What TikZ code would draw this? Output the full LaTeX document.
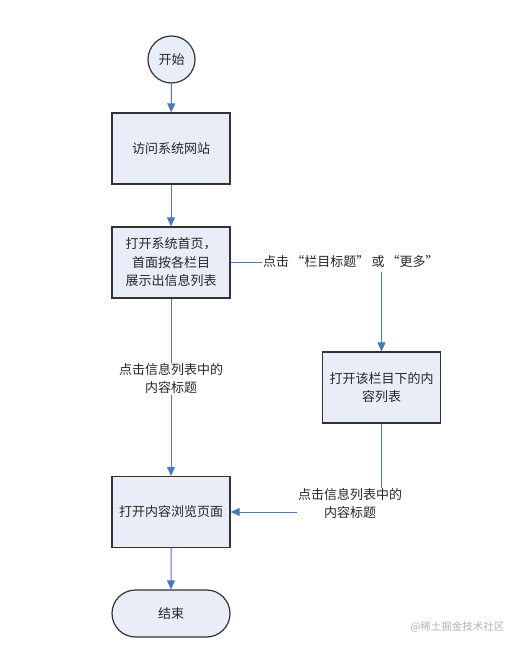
\documentclass[tikz,border=0pt]{standalone}
\usepackage{fontspec}
\setmainfont{Noto Sans CJK SC}
\usetikzlibrary{arrows.meta,shapes.misc}
\definecolor{boxfill}{HTML}{E9EDF7}
\definecolor{boxline}{HTML}{333333}
\definecolor{arrowblue}{HTML}{4A78C0}
\tikzset{
  base/.style={draw=boxline, line width=1.2pt, fill=boxfill, font=\fontsize{13}{18.5}\selectfont, align=center, inner sep=0pt, text=black!85},
  procbox/.style={base, rectangle, minimum width=118pt, minimum height=71pt},
  startcirc/.style={base, circle, minimum size=47pt},
  endterm/.style={base, rounded rectangle, minimum width=118pt, minimum height=47pt},
  lbl/.style={font=\fontsize{13}{18}\selectfont, align=center, inner sep=1pt, text=black!85},
  conn/.style={draw=arrowblue, line width=1pt},
  arr/.style={conn, -{Triangle[width=8pt,length=9pt]}},
}
\begin{document}
\begin{tikzpicture}[x=1pt,y=-1pt]
\useasboundingbox (0,0) rectangle (524,650);
\node[startcirc] (start) at (171.5,59.5) {开始};
\node[procbox] (visit) at (171,148.5) {访问系统网站};
\node[procbox] (home) at (171,262.5) {打开系统首页，\\首面按各栏目\\展示出信息列表};
\node[procbox] (list) at (381.5,387.5) {打开该栏目下的内\\容列表};
\node[procbox] (view) at (171,512) {打开内容浏览页面};
\node[endterm] (end) at (171,613.5) {结束};
\node[lbl, anchor=west] (l1) at (262,262) {点击\,“栏目标题”\,或\,“更多”};
\node[lbl] (l2) at (171,379) {点击信息列表中的\\内容标题};
\node[lbl] (l3) at (350,503.5) {点击信息列表中的\\内容标题};
\coordinate (l1drop) at (381.5,272);
\coordinate (l3top) at (381.5,488);
\node[font=\fontsize{10.5}{12}\selectfont, text=black!30, anchor=east] (wm) at (508,627) {@稀土掘金技术社区};
\draw[arr] (start) -- (visit);
\draw[arr] (visit) -- (home);
\draw[conn] (home.east) -- (home.east -| l1.west);
\draw[arr] (l1drop) -- (list.north);
\draw[conn] (home.south) -- (l2.north);
\draw[arr] (l2.south) -- (view.north);
\draw[conn] (list.south) -- (l3top);
\draw[arr] (l3.west |- view.east) -- (view.east);
\draw[arr] (view) -- (end);
\end{tikzpicture}
\end{document}
